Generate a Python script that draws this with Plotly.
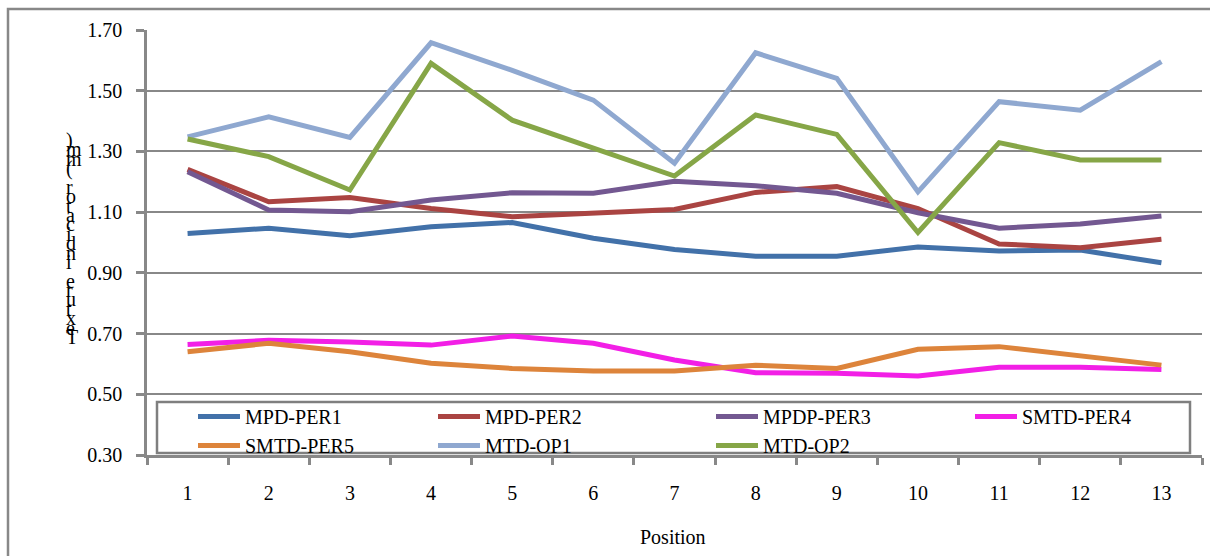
import plotly.graph_objects as go

# Measurement positions along the road section
positions = [str(i) for i in range(1, 14)]

# Texture indicator per method (mm)
mpd_per1 = [1.030, 1.047, 1.022, 1.052, 1.066, 1.014, 0.977, 0.955, 0.955, 0.985, 0.972, 0.975, 0.933]
mpd_per2 = [1.241, 1.134, 1.148, 1.112, 1.085, 1.099, 1.109, 1.165, 1.184, 1.112, 0.995, 0.983, 1.011]
mpdp_per3 = [1.233, 1.107, 1.101, 1.140, 1.164, 1.162, 1.202, 1.187, 1.162, 1.098, 1.047, 1.061, 1.087]
smtd_per4 = [0.664, 0.678, 0.672, 0.662, 0.692, 0.668, 0.613, 0.571, 0.569, 0.560, 0.589, 0.589, 0.582]
smtd_per5 = [0.640, 0.668, 0.640, 0.602, 0.585, 0.577, 0.577, 0.596, 0.585, 0.648, 0.657, 0.626, 0.596]
mtd_op1 = [1.348, 1.414, 1.346, 1.658, 1.567, 1.469, 1.261, 1.625, 1.541, 1.167, 1.464, 1.436, 1.596]
mtd_op2 = [1.341, 1.283, 1.173, 1.590, 1.403, 1.310, 1.219, 1.420, 1.356, 1.033, 1.329, 1.272, 1.272]

y_ticks = [0.30, 0.50, 0.70, 0.90, 1.10, 1.30, 1.50, 1.70]
y_title = "Texture indicator (mm)"
x_title = "Position"

series = [
    ("MPD-PER1", mpd_per1, "#4271A9", "legend"),
    ("MPD-PER2", mpd_per2, "#AA4442", "legend2"),
    ("MPDP-PER3", mpdp_per3, "#735891", "legend3"),
    ("SMTD-PER4", smtd_per4, "#F21FE6", "legend4"),
    ("SMTD-PER5", smtd_per5, "#DD843B", "legend"),
    ("MTD-OP1", mtd_op1, "#8FA8D0", "legend2"),
    ("MTD-OP2", mtd_op2, "#86A647", "legend3"),
]

FONT = "Liberation Serif"
GRID = "#888888"

W, H = 1210, 556
L, R, T, B = 147, 1202, 30, 455  # plot area in pixels
pw, ph = R - L, B - T


def px(x):
    return (x - L) / pw


def py(y):
    return (B - y) / ph


fig = go.Figure()
for name, vals, color, leg in series:
    fig.add_trace(go.Scatter(
        x=positions, y=vals, name=name, mode="lines",
        line=dict(color=color, width=5),
        legend=leg,
    ))

legend_common = dict(
    orientation="v", xanchor="left", yanchor="top",
    y=py(397), bgcolor="rgba(0,0,0,0)", borderwidth=0,
    font=dict(family=FONT, size=20, color="black"),
    itemwidth=42, tracegroupgap=0, traceorder="normal",
)

fig.update_layout(
    width=W, height=H,
    margin=dict(l=L, r=W - R, t=T, b=H - B),
    paper_bgcolor="white", plot_bgcolor="white",
    font=dict(family=FONT, size=20, color="black"),
    showlegend=True,
    legend=dict(x=px(193), **legend_common),
    legend2=dict(x=px(433), **legend_common),
    legend3=dict(x=px(711), **legend_common),
    legend4=dict(x=px(970), **legend_common),
    xaxis=dict(
        type="category", tickson="boundaries",
        range=[-0.5, len(positions) - 0.5],
        ticks="outside", ticklen=7, tickwidth=2.5, tickcolor=GRID,
        showline=True, linecolor=GRID, linewidth=2.5,
        showgrid=False, zeroline=False,
        ticklabelstandoff=18,
        tickfont=dict(family=FONT, size=20, color="black"),
    ),
    yaxis=dict(
        range=[0.30, 1.70], tickvals=y_ticks, tickformat=".2f",
        ticks="outside", ticklen=8, tickwidth=2.5, tickcolor=GRID,
        showline=True, linecolor=GRID, linewidth=2.5,
        showgrid=True, gridcolor=GRID, gridwidth=2,
        zeroline=False, ticklabelstandoff=10,
        tickfont=dict(family=FONT, size=20, color="black"),
    ),
)

# Outer chart frame (top and left edges visible)
fig.add_shape(type="path", xref="paper", yref="paper",
              path=f"M {px(8)} {py(600)} L {px(8)} {py(9)} L {px(1230)} {py(9)}",
              line=dict(color=GRID, width=2.5))

# Legend frame
fig.add_shape(type="rect", xref="paper", yref="paper",
              x0=px(157), x1=px(1190), y0=py(453), y1=py(402),
              line=dict(color="#7F7F7F", width=2.5), fillcolor="white", layer="below")

# Stacked y-axis title, one character per line (bottom to top)
chars = list(reversed(y_title))
step = (337 - 140) / (len(chars) - 1)
for i, ch in enumerate(chars):
    if ch == " ":
        continue
    fig.add_annotation(
        text=ch, xref="paper", yref="paper",
        x=px(64), y=py(140 + i * step),
        xanchor="left", yanchor="middle", showarrow=False,
        font=dict(family=FONT, size=20, color="black"),
    )

fig.add_annotation(
    text=x_title, xref="paper", yref="paper",
    x=px(673), y=py(537), xanchor="center", yanchor="middle",
    showarrow=False, font=dict(family=FONT, size=20, color="black"),
)

fig.write_html("out.html")
